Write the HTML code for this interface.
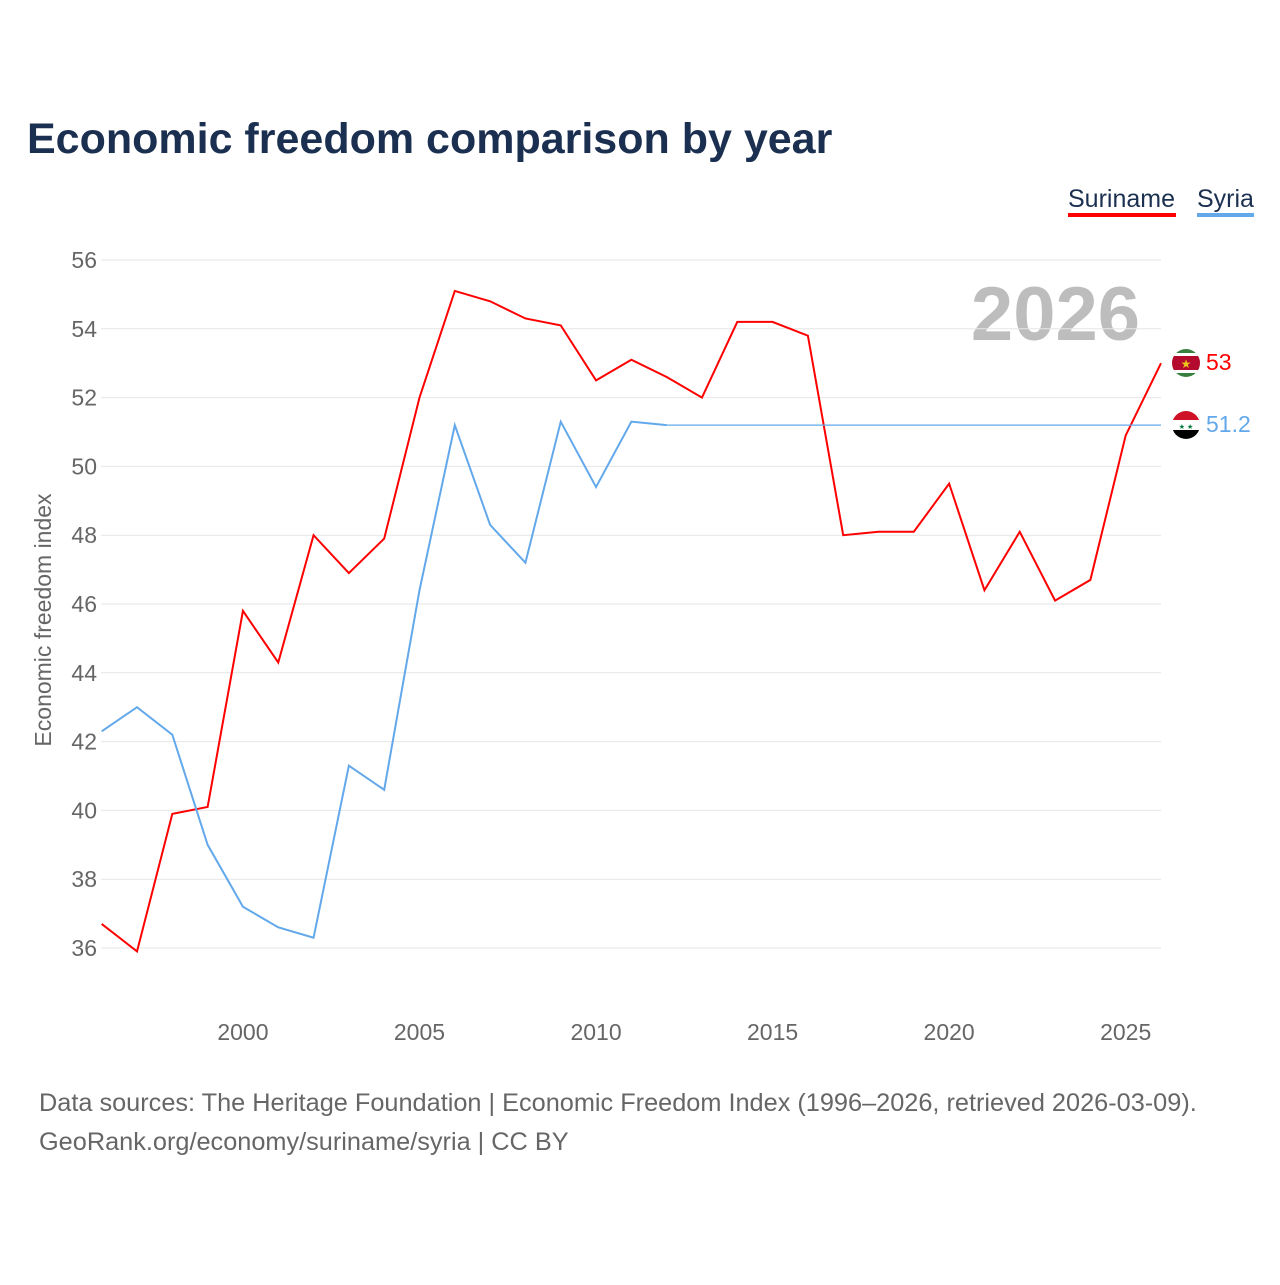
<!DOCTYPE html>
<html><head><meta charset="utf-8"><style>
body{margin:0;background:#fff;font-family:"Liberation Sans",sans-serif}
</style></head><body>
<svg id="chart" width="1280" height="1280" xmlns="http://www.w3.org/2000/svg" font-family="Liberation Sans, sans-serif">
<text x="27" y="153" font-size="43" font-weight="bold" fill="#1b3050">Economic freedom comparison by year</text>
<g>
<text x="1068" y="207" font-size="25" fill="#1b3050">Suriname</text>
<rect x="1068" y="213" width="108" height="4" fill="#ff0000"/>
<text x="1197" y="207" font-size="25" fill="#1b3050">Syria</text>
<rect x="1197" y="213" width="57" height="4" fill="#62a8ea"/>
</g>
<text x="1140" y="340" font-size="76" font-weight="bold" fill="#bdbdbd" text-anchor="end">2026</text>
<g id="grid"></g>
<g id="yticks"></g>
<g id="xticks"></g>
<text transform="translate(51,620) rotate(-90)" font-size="23" fill="#666" text-anchor="middle">Economic freedom index</text>
<g id="series"></g>
<g>
<clipPath id="c1"><circle cx="1186" cy="363" r="14"/></clipPath>
<g clip-path="url(#c1)"><rect x="1170" y="348" width="32" height="30" fill="#377e3f"/><rect x="1170" y="353" width="32" height="20" fill="#fff"/><rect x="1170" y="356" width="32" height="14" fill="#b40a2d"/><text x="1186" y="368" font-size="12" fill="#ecc81d" text-anchor="middle">★</text></g>
</g>
<g>
<clipPath id="c2"><circle cx="1186" cy="425" r="14"/></clipPath>
<g clip-path="url(#c2)"><rect x="1170" y="410" width="32" height="10" fill="#ce1126"/><rect x="1170" y="420" width="32" height="10" fill="#fff"/><rect x="1170" y="430" width="32" height="10" fill="#000"/><text x="1186" y="429" font-size="7" fill="#007a3d" text-anchor="middle">★ ★</text></g>
</g>
<text x="1206" y="370" font-size="23" fill="#ff0000">53</text>
<text x="1206" y="432" font-size="23" fill="#62a8ea">51.2</text>
<text x="39" y="1111" font-size="25.3" fill="#666">Data sources: The Heritage Foundation | Economic Freedom Index (1996–2026, retrieved 2026-03-09).</text>
<text x="39" y="1150" font-size="25.3" fill="#666">GeoRank.org/economy/suriname/syria | CC BY</text>
</svg>
<script>
const years=[1996,1997,1998,1999,2000,2001,2002,2003,2004,2005,2006,2007,2008,2009,2010,2011,2012,2013,2014,2015,2016,2017,2018,2019,2020,2021,2022,2023,2024,2025,2026];
const suriname=[36.7,35.9,39.9,40.1,45.8,44.3,48.0,46.9,47.9,52.0,55.1,54.8,54.3,54.1,52.5,53.1,52.6,52.0,54.2,54.2,53.8,48.0,48.1,48.1,49.5,46.4,48.1,46.1,46.7,50.9,53.0];
const syriaYears=[1996,1997,1998,1999,2000,2001,2002,2003,2004,2005,2006,2007,2008,2009,2010,2011,2012];
const syria=[42.3,43.0,42.2,39.0,37.2,36.6,36.3,41.3,40.6,46.4,51.2,48.3,47.2,51.3,49.4,51.3,51.2];
const yTicks=[36,38,40,42,44,46,48,50,52,54,56];
const xTicks=[2000,2005,2010,2015,2020,2025];
const NS="http://www.w3.org/2000/svg";
const xs=y=>101.7+(y-1996)*(1161-101.7)/30;
const ys=v=>260+(56-v)*34.4;
function mk(t,a,p){const e=document.createElementNS(NS,t);for(const k in a)e.setAttribute(k,a[k]);document.getElementById(p).appendChild(e);return e;}
yTicks.forEach(v=>{
 const l=mk('line',{x1:101,x2:1161,y1:ys(v),y2:ys(v),stroke:'#e6e6e6','stroke-width':1},'grid');
 
 
 const t=mk('text',{x:97,y:ys(v)+8,'font-size':23,fill:'#666','text-anchor':'end'},'yticks');
 t.textContent=v;
 
 
});
xTicks.forEach(v=>{
 const t=mk('text',{x:xs(v),y:1040,'font-size':23,fill:'#666','text-anchor':'middle'},'xticks');
 t.textContent=v;
 
 
});
const p1=mk('path',{d:years.map((y,i)=>(i?'L':'M')+xs(y)+','+ys(suriname[i])).join(''),fill:'none',stroke:'#ff0000','stroke-width':2},'series');


const p2=mk('path',{d:syriaYears.map((y,i)=>(i?'L':'M')+xs(y)+','+ys(syria[i])).join(''),fill:'none',stroke:'#62a8ea','stroke-width':2},'series');


const last=syria[syria.length-1];
const p3=mk('line',{x1:xs(syriaYears[syriaYears.length-1]),x2:xs(2026),y1:ys(last),y2:ys(last),stroke:'#62a8ea','stroke-width':1.2},'series');


</script>
</body></html>
